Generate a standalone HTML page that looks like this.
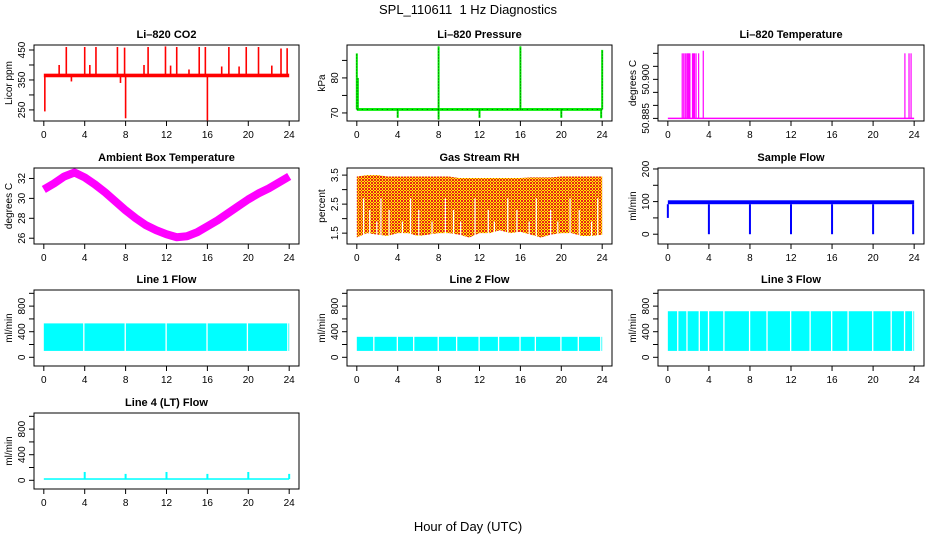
<!DOCTYPE html>
<html><head><meta charset="utf-8"><style>
html,body{margin:0;padding:0;background:#fff}
svg{display:block}
text{font-family:"Liberation Sans",sans-serif;fill:#000}
</style></head><body>
<svg id="c" width="936" height="540" viewBox="0 0 936 540" xmlns="http://www.w3.org/2000/svg">
<defs>
<pattern id="rh" width="3" height="3" patternUnits="userSpaceOnUse"><rect width="3" height="3" fill="#ffee00"/><rect width="1" height="1" fill="#e8201a"/><rect x="1" y="1" width="1" height="1" fill="#e8201a"/><rect x="2" y="2" width="1" height="1" fill="#e8201a"/><rect x="2" y="0" width="1" height="1" fill="#e8201a"/><rect x="0" y="2" width="1" height="1" fill="#e8201a"/></pattern>
</defs>
<text x="468" y="14" text-anchor="middle" font-size="13" xml:space="preserve">SPL_110611  1 Hz Diagnostics</text>
<text x="468" y="531" text-anchor="middle" font-size="13">Hour of Day (UTC)</text>
</svg>
<script>
// ---- data ----
const xTicks=[0,4,8,12,16,20,24];
const co2Base=365;
const co2SpikeTimes=[2.2,4.0,5.1,7.2,7.9,10.2,11.9,13.0,15.2,15.8,18.1,19.8,21.0,23.2,23.8,1.5,4.5,9.8,12.4,14.2,17.4,19.1,22.3,0.1,8.0,16.0,2.7,7.5];
const co2SpikeVals=[460,460,460,460,458,460,462,460,460,460,460,460,460,455,456,400,400,400,398,385,395,395,398,245,222,215,345,340];
const presBase=71;
const presSpikeTimes=[0.0,0.1,8.0,16.0,24.0,4.0,8.0,12.0,20.0,23.9];
const presSpikeVals=[87,80,89,89,88,68.6,68.1,68.6,68.6,68.5];
const tempBase=50.885;
const tempSpikeTimes=[1.4,1.55,1.7,1.85,1.95,2.05,2.15,2.4,2.5,2.6,2.75,3.0,3.45,23.1,23.5,23.7];
const tempSpikeVals=[50.910,50.910,50.910,50.910,50.910,50.910,50.910,50.910,50.910,50.910,50.910,50.910,50.911,50.910,50.910,50.910];
const ambHours=[0,1,2,3,4,5,6,7,8,9,10,11,12,13,14,15,16,17,18,19,20,21,22,23,24];
const ambVals=[30.9,31.5,32.2,32.6,32.1,31.4,30.6,29.7,28.8,28.0,27.3,26.8,26.4,26.1,26.2,26.6,27.2,27.8,28.5,29.2,29.9,30.5,31.0,31.6,32.2];
const rhHours=[0,1,2,3,4,5,6,7,8,9,10,11,12,13,14,15,16,17,18,19,20,21,22,23,24];
const rhHigh=[3.45,3.5,3.5,3.45,3.45,3.45,3.45,3.45,3.45,3.45,3.4,3.4,3.4,3.4,3.4,3.4,3.4,3.42,3.42,3.42,3.45,3.45,3.45,3.45,3.45];
const rhLow=[1.35,1.5,1.45,1.4,1.5,1.5,1.4,1.45,1.5,1.5,1.45,1.35,1.5,1.5,1.6,1.5,1.55,1.45,1.35,1.45,1.5,1.5,1.4,1.4,1.45];
const rhGapTimes=[0.6,1.2,1.9,2.3,3.1,4.4,5.2,6.0,7.3,8.6,9.4,10.1,11.5,12.8,13.4,14.7,15.6,16.8,17.5,18.9,19.6,20.8,21.7,22.9,23.5];
const sfLow=92, sfHigh=104;
const sfDipTimes=[0.0,4.0,8.0,12.0,16.0,20.0,23.9];
const sfDipVals=[50,0,0,0,0,0,0];
const l1Low=100, l1High=530;
const l1Gaps=[3.85,7.9,11.9,15.9,19.85,23.8];
const l2Low=100, l2High=320;
const l2Gaps=[1.6,3.9,5.5,7.9,9.7,11.9,13.8,15.9,17.4,19.9,21.6,23.8];
const l3Low=100, l3High=720;
const l3Gaps=[0.9,1.8,3.0,3.9,5.4,7.9,9.6,11.9,13.8,15.9,17.5,19.9,21.7,23.0,23.8];
const l4Base=20;
const l4SpikeTimes=[4.0,8.0,12.0,16.0,20.0,24.0];
const l4SpikeVals=[130,100,130,100,130,100];

// ---- layout ----
const svg=document.getElementById('c');
const NS='http://www.w3.org/2000/svg';
const cols=[34,347,658], colW=[265,265,266];
const rows=[45,168,290,413], H=76;
function mk(tag,attrs,parent){const e=document.createElementNS(NS,tag);for(const k in attrs)e.setAttribute(k,attrs[k]);(parent||svg).appendChild(e);return e;}
function panel(ci,ri,name,title,ylab,ymin,ymax,yticks,ylabels){
  const x0=cols[ci],y0=rows[ri],w=colW[ci];
  const g=mk('g',{});
  
  
  const xs=v=>x0+w*(v+0.96)/25.92;
  const ys=v=>y0+H*(ymax-v)/(ymax-ymin);
  const t=mk('text',{x:x0+w/2,y:y0-7,'text-anchor':'middle','font-size':11,'font-weight':'bold'},g);
  t.textContent=title;
  
  
  const box=mk('rect',{x:x0,y:y0,width:w,height:H,fill:'none',stroke:'#000','stroke-width':1},g);
  
  
  const xa=mk('g',{},g);
  
  
  xTicks.forEach(v=>{mk('line',{x1:xs(v),x2:xs(v),y1:y0+H,y2:y0+H+5,stroke:'#000'},xa);
    const l=mk('text',{x:xs(v),y:y0+H+17,'text-anchor':'middle','font-size':10},xa);l.textContent=v;});
  const ya=mk('g',{},g);
  
  
  yticks.forEach(v=>mk('line',{x1:x0-5,x2:x0,y1:ys(v),y2:ys(v),stroke:'#000'},ya));
  ylabels.forEach(v=>{const yy=ys(v);const l=mk('text',{x:x0-9,y:yy,'text-anchor':'middle','font-size':10,transform:`rotate(-90 ${x0-9} ${yy})`},ya);l.textContent=v;});
  const yt=mk('text',{x:x0-22,y:y0+H/2,'text-anchor':'middle','font-size':10,transform:`rotate(-90 ${x0-22} ${y0+H/2})`},g);
  yt.textContent=ylab;
  
  
  const d=mk('g',{},g);
  
  
  return {xs,ys,d};
}
function vline(P,t,a,b,col,sw){return mk('line',{x1:P.xs(t),x2:P.xs(t),y1:P.ys(a),y2:P.ys(b),stroke:col,'stroke-width':sw||1.5},P.d);}
function band(P,lo,hi,col,gaps){
  mk('rect',{x:P.xs(0),y:P.ys(hi),width:P.xs(24)-P.xs(0),height:P.ys(lo)-P.ys(hi),fill:col},P.d);
  (gaps||[]).forEach(g=>mk('rect',{x:P.xs(g),y:P.ys(hi)-1,width:1.3,height:P.ys(lo)-P.ys(hi)+2,fill:'#fff'},P.d));
}

// CO2
let P=panel(0,0,'co2','Li\u2013820 CO2','Licor ppm',213,466.7,[250,300,350,400,450],[250,350,450]);
mk('rect',{x:P.xs(0),y:P.ys(co2Base+6),width:P.xs(24)-P.xs(0),height:P.ys(co2Base-6)-P.ys(co2Base+6),fill:'#ff0000'},P.d);
co2SpikeTimes.forEach((t,i)=>vline(P,t,co2Base,co2SpikeVals[i],'#ff0000',1.6));

// Pressure
P=panel(1,0,'pressure','Li\u2013820 Pressure','kPa',67.7,89.4,[70,75,80,85],[70,80]);
mk('rect',{x:P.xs(0),y:P.ys(presBase+0.4),width:P.xs(24)-P.xs(0),height:P.ys(presBase-0.4)-P.ys(presBase+0.4),fill:'#00ee00'},P.d);
mk('line',{x1:P.xs(0),x2:P.xs(24),y1:P.ys(presBase),y2:P.ys(presBase),stroke:'#000','stroke-width':0.6,'stroke-dasharray':'1 4'},P.d);
presSpikeTimes.forEach((t,i)=>{vline(P,t,presBase,presSpikeVals[i],'#00ee00',2);vline(P,t,presBase,presSpikeVals[i],'#000',0.6).setAttribute('stroke-dasharray','1 2');});

// Li-820 temperature
P=panel(2,0,'li820-temp','Li\u2013820 Temperature','degrees C',50.884,50.9132,[50.885,50.890,50.895,50.900,50.905,50.910],['50.885','50.900']);
mk('line',{x1:P.xs(0),x2:P.xs(24),y1:P.ys(tempBase),y2:P.ys(tempBase),stroke:'#ff00ff','stroke-width':1.5},P.d);
tempSpikeTimes.forEach((t,i)=>vline(P,t,tempBase,tempSpikeVals[i],'#ff00ff',1.2));

// Ambient
P=panel(0,1,'ambient-temp','Ambient Box Temperature','degrees C',25.42,33.05,[26,28,30,32],[26,28,30,32]);
mk('polyline',{points:ambHours.map((h,i)=>P.xs(h)+','+P.ys(ambVals[i])).join(' '),fill:'none',stroke:'#ff00ff','stroke-width':8,'stroke-linejoin':'round'},P.d);

// RH
P=panel(1,1,'gas-rh','Gas Stream RH','percent',1.126,3.745,[1.5,2,2.5,3,3.5],[1.5,2.5,3.5]);
const rhPts=rhHours.map((h,i)=>P.xs(h)+','+P.ys(rhHigh[i])).concat(rhHours.slice().reverse().map((h,j)=>{const i=rhHours.length-1-j;return P.xs(h)+','+P.ys(rhLow[i]);}));
mk('polygon',{points:rhPts.join(' '),fill:'url(#rh)'},P.d);
rhGapTimes.forEach((g,i)=>mk('rect',{x:P.xs(g),y:P.ys(2.7-0.4*(i%3)),width:1.2,height:P.ys(1.2)-P.ys(2.7-0.4*(i%3)),fill:'#fff'},P.d));

// Sample flow
P=panel(2,1,'sample-flow','Sample Flow','ml/min',-30,203,[0,50,100,150,200],[0,100,200]);
band(P,sfLow,sfHigh,'#0000ff');
sfDipTimes.forEach((t,i)=>vline(P,t,sfLow,sfDipVals[i],'#0000ff',2));

const fT=[0,200,400,600,800,1000], fL=[0,400,800];
P=panel(0,2,'line1-flow','Line 1 Flow','ml/min',-136,1052,fT,fL);
band(P,l1Low,l1High,'#00ffff',l1Gaps);
P=panel(1,2,'line2-flow','Line 2 Flow','ml/min',-136,1052,fT,fL);
band(P,l2Low,l2High,'#00ffff',l2Gaps);
P=panel(2,2,'line3-flow','Line 3 Flow','ml/min',-136,1052,fT,fL);
band(P,l3Low,l3High,'#00ffff',l3Gaps);
P=panel(0,3,'line4-flow','Line 4 (LT) Flow','ml/min',-136,1052,fT,fL);
mk('rect',{x:P.xs(0),y:P.ys(l4Base+12),width:P.xs(24)-P.xs(0),height:P.ys(l4Base-12)-P.ys(l4Base+12),fill:'#00ffff'},P.d);
l4SpikeTimes.forEach((t,i)=>vline(P,t,l4Base,l4SpikeVals[i],'#00ffff',2));
</script>
</body></html>
